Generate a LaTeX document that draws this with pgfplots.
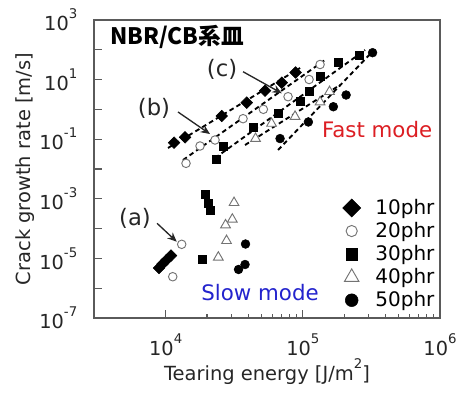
\documentclass[border=0pt]{standalone}
\usepackage{pgfplots}
\pgfplotsset{compat=1.18}
\usepackage{fontspec}
\setmainfont{DejaVu Sans}
\newfontfamily\cjk{Noto Sans CJK JP}
\usetikzlibrary{arrows.meta}
\newcommand\ex[2]{#1\raisebox{0.62em}{\fontsize{10}{10}\selectfont #2}}
\definecolor{fastred}{RGB}{220,30,35}
\definecolor{slowblue}{RGB}{35,35,205}
\definecolor{axgray}{RGB}{90,90,90}

\begin{document}
\begin{tikzpicture}
\begin{axis}[
  xmode=log, ymode=log,
  scale only axis, width=259.5pt, height=223.5pt,
  xmin=3000, xmax=1e6, ymin=1e-7, ymax=1e3,
  axis line style={draw=axgray, line width=0.8pt},
  xtick={1e4,1e5,1e6},
  xticklabels={\ex{10}{4},\ex{10}{5},\ex{10}{6}},
  ytick={1e-7,1e-6,1e-5,1e-4,1e-3,1e-2,1e-1,1,1e1,1e2,1e3},
  yticklabels={\ex{10}{-7},,\ex{10}{-5},,\ex{10}{-3},,\ex{10}{-1},,\ex{10}{1},,\ex{10}{3}},
  yminorticks=false,
  tick align=inside, xtick pos=bottom, ytick pos=left,
  major tick length=6pt, minor tick length=3pt,
  every tick/.style={draw=axgray, line width=0.8pt},
  ticklabel style={font=\fontsize{14.5}{14.5}\selectfont, text=black!85},
  xticklabel style={yshift=-8pt},
  yticklabel style={xshift=-9pt},
  xlabel={Tearing energy [J/m\raisebox{0.62em}{\fontsize{10}{10}\selectfont 2}]},
  ylabel={Crack growth rate [m/s]},
  label style={font=\fontsize{14.6}{14.6}\selectfont, text=black!85},
  xlabel style={at={(axis description cs:0.5,-0.211)}, anchor=base},
  ylabel style={at={(axis description cs:-0.199,0.5)}, anchor=center, rotate=0},
  legend style={draw=none, fill=none, at={(rel axis cs:1.004,0.012)}, anchor=south east,
    font=\fontsize{15}{15}\selectfont, row sep=0.4pt,
    /tikz/every odd column/.append style={column sep=9pt}},
  legend cell align=left,
  legend image code/.code={\draw[mark repeat=2,mark phase=2,#1] plot coordinates {(0pt,0pt) (10pt,0pt) (20pt,0pt)};},
]
\coordinate (bl) at (rel axis cs:0,0);
\coordinate (tr) at (rel axis cs:1,1);

% dashed fit lines
\pgfplotsset{fitline/.style={black, line width=1.4pt, dash pattern=on 3.5pt off 2.5pt, forget plot}}
\addplot[fitline] coordinates {(10390,0.0507) (95410,24.5)};
\addplot[fitline] coordinates {(13370,0.02) (145200,45.5)};
\addplot[fitline] coordinates {(22890,0.0234) (284300,98.4)};
\addplot[fitline] coordinates {(37880,0.0638) (186700,6.59)};
\addplot[fitline] coordinates {(65940,0.0434) (319700,84.3)};

% 10phr
\addplot[only marks, mark=square*, mark size=3.1pt, mark options={rotate=45, fill=black, draw=black}, forget plot] coordinates {
(11500,0.0764) (13830,0.116) (25620,0.601) (38980,1.679) (53010,4.25) (70190,7.87) (88440,17.3)
(8935,4.76e-6) (9476,6.49e-6) (10130,8.83e-6) (10930,1.25e-5)};
% 20phr
\addplot[only marks, mark=*, mark size=3.2pt, mark options={fill=white, draw=black!55, line width=0.7pt}, forget plot] coordinates {
(14060,0.0155) (17790,0.0592) (22890,0.094) (36630,0.488) (51510,1.007) (78000,2.67) (111000,10.07) (133500,32.1)
(13080,2.97e-5) (11250,2.43e-6)};
% 30phr
\addplot[only marks, mark=square*, mark size=3pt, mark options={fill=black, draw=black}, forget plot] coordinates {
(23550,0.0212) (26310,0.0592) (43540,0.256) (65940,0.728) (95410,1.84) (111900,4.14) (133500,13.2) (182100,39.0) (257000,67.0)
(19350,1.45e-3) (20530,6.95e-4) (21040,4.21e-4) (18550,9.55e-6)};
% 40phr
\addplot[only marks, mark=triangle*, mark size=4.2pt, mark options={fill=white, draw=black!55, line width=0.7pt}, forget plot] coordinates {
(45190,0.105) (59100,0.337) (87710,0.578) (133500,1.77) (156500,3.93)
(31490,7.40e-4) (30600,2.05e-4) (27310,1.32e-4) (27760,3.93e-5) (24190,1.09e-5)};
% 50phr
\addplot[only marks, mark=*, mark size=3.3pt, mark options={fill=black, draw=black}, forget plot] coordinates {
(68210,0.105) (109700,0.378) (166900,1.23) (206700,3.04) (322400,80.0)
(38190,3.04e-5) (37880,6.24e-6) (33960,4.25e-6)};

% legend
\addlegendimage{only marks, mark=square*, mark size=4.8pt, mark options={rotate=45, fill=black, draw=black}}
\addlegendentry{10phr}
\addlegendimage{only marks, mark=*, mark size=4.2pt, mark options={fill=white, draw=black!55, line width=0.7pt}}
\addlegendentry{20phr}
\addlegendimage{only marks, mark=square*, mark size=4.3pt, mark options={fill=black, draw=black}}
\addlegendentry{30phr}
\addlegendimage{only marks, mark=triangle*, mark size=6.2pt, mark options={fill=white, draw=black!55, line width=0.7pt}}
\addlegendentry{40phr}
\addlegendimage{only marks, mark=*, mark size=4.8pt, mark options={fill=black, draw=black}}
\addlegendentry{50phr}

% annotations
\draw[-{Stealth[length=7pt,width=6pt]}, line width=1pt, black!85] (axis cs:8640,1.51e-4) -- (axis cs:12030,3.63e-5);
\draw[-{Stealth[length=7pt,width=6pt]}, line width=1pt, black!85] (axis cs:12290,0.818) -- (axis cs:21040,0.149);
\draw[-{Stealth[length=7pt,width=6pt]}, line width=1pt, black!85] (axis cs:36630,18.4) -- (axis cs:70190,3.47);
\node[font=\fontsize{17}{17}\selectfont, text=black!85] at (axis cs:5972,2.27e-4) {(a)};
\node[font=\fontsize{17}{17}\selectfont, text=black!85] at (axis cs:8213,1.11) {(b)};
\node[font=\fontsize{17}{17}\selectfont, text=black!85] at (axis cs:25740,22.7) {(c)};
\node[font=\fontsize{16}{16}\selectfont, text=fastred] at (axis cs:347800,0.204) {Fast mode};
\node[font=\fontsize{16}{16}\selectfont, text=slowblue] at (axis cs:48730,6.9e-7) {Slow mode};
\node[anchor=west, inner sep=0pt] at (rel axis cs:0.046,0.943) {\cjk\bfseries\fontsize{17}{17}\selectfont NBR/CB系皿};
\end{axis}
\pgfresetboundingbox
\path ([shift={(-70.5pt,-58.5pt)}]bl) rectangle ([shift={(19.5pt,15pt)}]tr);
\end{tikzpicture}
\end{document}
